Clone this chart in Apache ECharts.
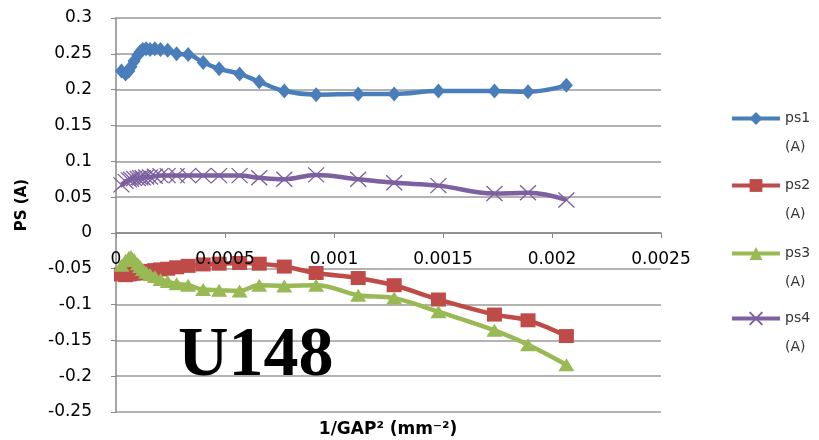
<!DOCTYPE html>
<html>
<head>
<meta charset="utf-8">
<script src="https://cdn.jsdelivr.net/npm/echarts@6/dist/echarts.min.js"></script>
<style>html,body{margin:0;padding:0;background:#fff}#c{width:819px;height:440px}</style>
</head>
<body>
<div id="c"></div>
<script>
// 1/GAP^2 values (mm^-2)
const xValues = [0.000025, 0.000044, 0.000059, 0.000069, 0.000083, 0.0001, 0.000111, 0.000123, 0.000138, 0.000156, 0.000178, 0.000204, 0.000237, 0.000278, 0.000331, 0.0004, 0.000473, 0.000567, 0.000657, 0.000772, 0.000918, 0.001111, 0.001276, 0.001479, 0.001736, 0.00189, 0.002066];
const ps1 = [0.226, 0.222, 0.226, 0.232, 0.240, 0.248, 0.253, 0.256, 0.257, 0.256, 0.257, 0.256, 0.255, 0.250, 0.249, 0.238, 0.229, 0.222, 0.211, 0.198, 0.193, 0.194, 0.194, 0.198, 0.198, 0.197, 0.206];
const ps2 = [-0.058, -0.059, -0.058, -0.057, -0.057, -0.056, -0.055, -0.055, -0.054, -0.053, -0.052, -0.051, -0.050, -0.048, -0.046, -0.044, -0.043, -0.042, -0.043, -0.047, -0.056, -0.063, -0.073, -0.093, -0.114, -0.122, -0.144];
const ps3 = [-0.045, -0.038, -0.034, -0.033, -0.037, -0.043, -0.047, -0.051, -0.055, -0.058, -0.061, -0.065, -0.068, -0.071, -0.073, -0.079, -0.080, -0.081, -0.073, -0.074, -0.073, -0.087, -0.091, -0.110, -0.136, -0.156, -0.184];
const ps4 = [0.067, 0.072, 0.074, 0.075, 0.076, 0.076, 0.077, 0.077, 0.078, 0.078, 0.079, 0.080, 0.080, 0.080, 0.080, 0.080, 0.080, 0.080, 0.077, 0.075, 0.081, 0.075, 0.070, 0.066, 0.055, 0.056, 0.046];
const seriesNames = ['ps1', 'ps2', 'ps3', 'ps4'];
const yTitle = 'PS (A)';
const xTitle = '1/GAP² (mm⁻²)';
const chartLabel = 'U148';

const colors = ['#4a7ebb', '#be4b48', '#98b954', '#7d60a0'];
const seriesData = [ps1, ps2, ps3, ps4];
const symbols = ['diamond', 'rect', 'triangle', 'path://M0,0L10,10M10,0L0,10'];
const symbolSizes = [[13, 15], [15, 14], [16, 13], [16, 15]];

const chart = echarts.init(document.getElementById('c'), null, {renderer: 'canvas'});

const series = seriesNames.map((n, k) => ({
  name: n,
  type: 'line',
  smooth: 0.4,
  data: xValues.map((x, i) => [x, seriesData[k][i]]),
  symbol: symbols[k],
  symbolSize: symbolSizes[k],
  showAllSymbol: true,
  lineStyle: {width: 4.5, color: colors[k]},
  itemStyle: k === 3 ? {color: 'none', borderColor: colors[k], borderWidth: 1.3} : {color: colors[k]},
  emphasis: {disabled: true},
  z: 2 + k
}));

const legendTops = [75, 142, 210, 275];
const legends = seriesNames.map((n, k) => ({
  data: [n],
  orient: 'vertical',
  left: 730,
  top: legendTops[k],
  padding: 0,
  itemWidth: 48,
  itemHeight: 16,
  itemGap: 5,
  lineStyle: {width: 4},
  formatter: name => ' \n' + name + '\n(A)',
  textStyle: {fontFamily: 'DejaVu Sans', fontSize: 14, color: '#333', lineHeight: 29}
}));

chart.setOption({
  animation: false,
  backgroundColor: '#fff',
  grid: {left: 116, right: 158, top: 18, bottom: 28, outerBoundsMode: 'none'},
  legend: legends,
  xAxis: {
    type: 'value', min: 0, max: 0.0025, interval: 0.0005,
    z: 10,
    position: 'bottom',
    offset: -179,
    axisLine: {onZero: false, lineStyle: {color: '#888', width: 1.5}},
    axisTick: {show: true, length: 5, lineStyle: {color: '#888'}},
    axisLabel: {margin: 18, color: '#000', fontFamily: 'DejaVu Sans', fontSize: 17},
    splitLine: {show: false}
  },
  yAxis: {
    type: 'value', min: -0.25, max: 0.3, interval: 0.05,
    axisLine: {show: true, onZero: false, lineStyle: {color: '#888', width: 1.5}},
    axisTick: {show: true, length: 5, lineStyle: {color: '#888'}},
    axisLabel: {margin: 24, color: '#000', fontFamily: 'DejaVu Sans', fontSize: 17},
    splitLine: {lineStyle: {color: '#9a9a9a', width: 1.5}}
  },
  graphic: [{
    type: 'text', left: 178, top: 322, z: 100,
    style: {text: chartLabel, font: 'bold 70px "Liberation Serif"', fill: '#000'}
  }, {
    type: 'text', x: 22, y: 205, rotation: Math.PI / 2, z: 100,
    style: {text: yTitle, font: 'bold 15px "DejaVu Sans"', fill: '#000', align: 'center', verticalAlign: 'middle'}
  }, {
    type: 'text', x: 388, y: 430, z: 100,
    style: {text: xTitle, font: 'bold 17px "DejaVu Sans"', fill: '#000', align: 'center', verticalAlign: 'middle'}
  }],
  series: series
});
</script>
</body>
</html>
